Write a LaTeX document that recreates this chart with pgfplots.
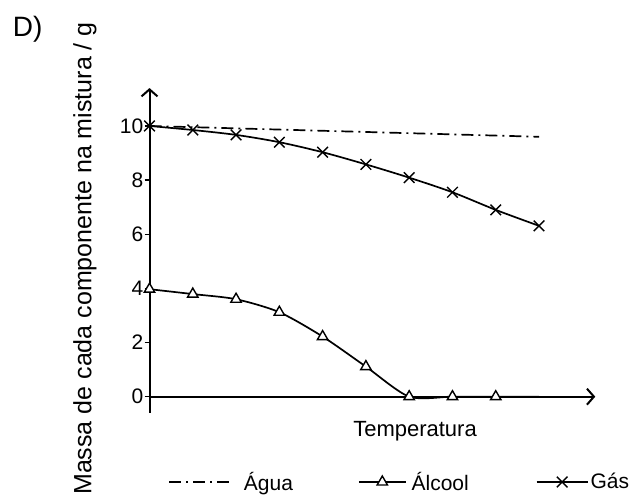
\documentclass[border=0pt]{standalone}
\usepackage{fontspec}
\setmainfont{Liberation Sans}
\usepackage{pgfplots}
\pgfplotsset{compat=1.18}
\usetikzlibrary{arrows.meta}
\pgfplotsset{
  waterleg/.style={legend image code/.code={\draw[##1] (0pt,0pt) -- (62pt,0pt);}},
  alcleg/.style={legend image code/.code={\draw[##1] (0pt,0pt) -- (47pt,0pt); \draw[##1,mark indices={1}] plot coordinates {(23.5pt,0pt)};}},
  gasleg/.style={legend image code/.code={\draw[##1] (0pt,0pt) -- (51pt,0pt); \draw[##1,mark indices={1}] plot coordinates {(25.5pt,0pt)};}},
}
\begin{document}
\begin{tikzpicture}
\useasboundingbox (-149.5pt,-86.1pt) rectangle (494.5pt,412.9pt);
\begin{axis}[
  at={(0,0)}, anchor=south west,
  x=43.28pt, y=27.07pt,
  xmin=0, xmax=10.3, ymin=-0.6, ymax=11.4,
  enlargelimits=false,
  axis x line=middle, axis y line=left,
  axis line style={line width=2pt},
  x axis line style={-{Straight Barb[length=7pt,width=16pt,line width=2pt]}},
  y axis line style={-{Straight Barb[length=7pt,width=16pt,line width=2pt]}},
  xtick=\empty,
  ytick={0,2,...,10},
  tick align=outside,
  major tick length=5pt,
  tick style={line width=1.4pt, black},
  yticklabel style={font=\fontsize{21}{24}\selectfont, inner sep=1pt},
  /pgf/number format/assume math mode=true,
  clip=false,
  legend columns=3,
  legend style={draw=none, fill=none, at={(0.0415,-0.2127)}, anchor=west,
    font=\fontsize{21}{24}\selectfont, inner sep=0pt, nodes={inner sep=0pt},
    /tikz/column 1/.style={column sep=12pt},
    /tikz/column 2/.style={column sep=65pt},
    /tikz/column 3/.style={column sep=5pt},
    /tikz/column 4/.style={column sep=67pt},
    /tikz/column 5/.style={column sep=2pt}},
]
\addplot[black, line width=1.7pt, dash pattern=on 12pt off 5pt on 2pt off 5pt, waterleg]
  coordinates {(0,10) (9,9.6)};
\addlegendentry{Água}
\addplot[black, line width=1.7pt, smooth, tension=0.45, mark=triangle*, mark size=6pt,
  mark options={solid, fill=white, line width=1.4pt}, mark indices={1,2,3,4,5,6,7,8,9}, alcleg]
  coordinates {(0,3.97) (1,3.79) (2,3.60) (3,3.12) (4,2.22) (5,1.11) (6,0) (7,0) (8,0) (9,0)};
\addlegendentry{Álcool}
\addplot[black, line width=1.7pt, smooth, mark=x, mark size=7.5pt,
  mark options={solid, line width=1.4pt}, gasleg]
  coordinates {(0,10) (1,9.85) (2,9.67) (3,9.40) (4,9.03) (5,8.58) (6,8.09) (7,7.55) (8,6.90) (9,6.31)};
\addlegendentry{Gás}
\end{axis}
\node[rotate=90, anchor=base, inner sep=0pt, font=\fontsize{25}{30}\selectfont] at (-58pt,154.4pt) {Massa de cada componente na mistura / g};
\node[anchor=base west, font=\fontsize{28}{32}\selectfont, inner sep=0pt] at (-136.7pt,376.2pt) {D)};
\node[anchor=base, font=\fontsize{22}{26}\selectfont, inner sep=0pt] at (265.5pt,-23.8pt) {Temperatura};
\end{tikzpicture}
\end{document}
